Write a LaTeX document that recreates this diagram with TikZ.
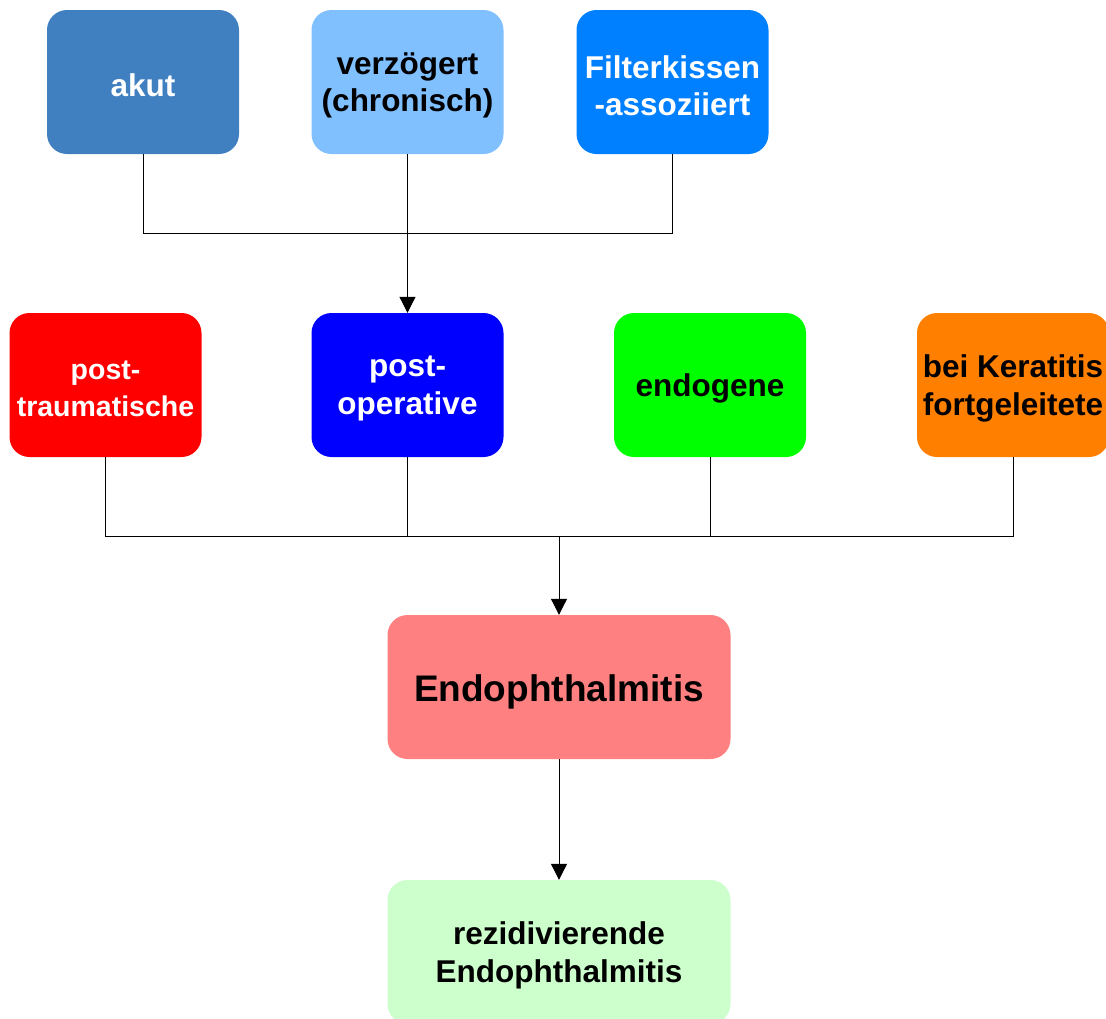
\documentclass[tikz,border=0pt]{standalone}
\usepackage{fontspec}
\setmainfont{Liberation Sans}
\usetikzlibrary{arrows.meta}
\definecolor{cAkut}{HTML}{4080C0}
\definecolor{cVerz}{HTML}{80C0FF}
\definecolor{cFilt}{HTML}{0080FF}
\definecolor{cTrau}{HTML}{FF0000}
\definecolor{cOper}{HTML}{0000FF}
\definecolor{cEndo}{HTML}{00FF00}
\definecolor{cKera}{HTML}{FF8000}
\definecolor{cMain}{HTML}{FF8080}
\definecolor{cRezi}{HTML}{CCFFCC}
\tikzset{
  box/.style={rectangle, rounded corners=20pt, inner sep=0pt,
    minimum width=192pt, minimum height=144pt},
  bigbox/.style={box, minimum width=343pt},
  txt/.style={inner sep=0pt, align=center, yshift=-3.5pt,
    font=\fontsize{31.5}{37.5}\selectfont\bfseries},
  conn/.style={line width=1pt, black},
  arr/.style={conn, -{Triangle[width=16pt,length=16pt]}}
}
\begin{document}
\begin{tikzpicture}[x=1pt,y={(0pt,-1pt)}]
\useasboundingbox (0,0) rectangle (1106,1018);
% top row
\node[box, fill=cAkut] (akut) at (143,82) {};
\node[box, fill=cVerz] (verz) at (407.5,82) {};
\node[box, fill=cFilt] (filt) at (672.5,82) {};
% middle row
\node[box, fill=cTrau] (trau) at (105.5,385) {};
\node[box, fill=cOper] (oper) at (407.5,385) {};
\node[box, fill=cEndo] (endo) at (710,385) {};
\node[box, fill=cKera] (kera) at (1013,385) {};
% main
\node[bigbox, fill=cMain] (main) at (559,687) {};
\node[bigbox, fill=cRezi] (rezi) at (559,952) {};
% texts
\node[txt, text=white] (akutT) at (akut.center) {akut};
\node[txt, text=black] (verzT) at (verz.center) {verzögert\\(chronisch)};
\node[txt, text=white] (filtT) at (filt.center) {Filterkissen\\-assoziiert};
\node[txt, text=white, font=\fontsize{28.5}{37}\selectfont\bfseries] (trauT) at (trau.center) {post-\\traumatische};
\node[txt, text=white] (operT) at (oper.center) {post-\\operative};
\node[txt, text=black] (endoT) at (endo.center) {endogene};
\node[txt, text=black] (keraT) at (kera.center) {bei Keratitis\\fortgeleitete};
\node[txt, text=black, font=\fontsize{37}{44}\selectfont\bfseries, yshift=-1pt] (mainT) at (main.center) {Endophthalmitis};
\node[txt, text=black] (reziT) at (rezi.center) {rezidivierende\\Endophthalmitis};
% junctions
\coordinate (j1) at (407.5,233);
\coordinate (j2) at (559,536);
% connectors
\draw[conn] (akut.south) |- (j1);
\draw[conn] (filt.south) |- (j1);
\draw[arr] (verz.south) -- (oper.north);
\draw[conn] (trau.south) |- (j2);
\draw[conn] (kera.south) |- (j2);
\draw[conn] (oper.south) -- (oper.south |- j2);
\draw[conn] (endo.south) -- (endo.south |- j2);
\draw[arr] (j2) -- (main.north);
\draw[arr] (main.south) -- (rezi.north);
\end{tikzpicture}
\end{document}
